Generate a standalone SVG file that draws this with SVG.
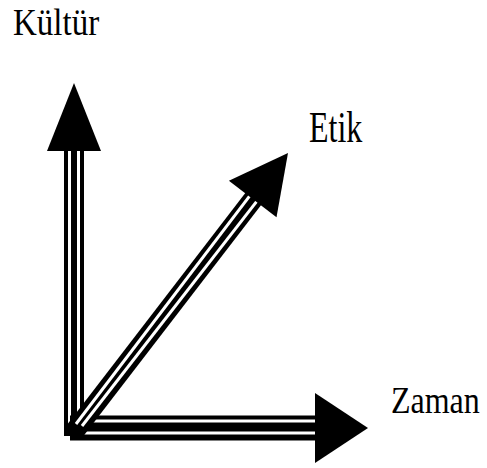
<svg xmlns="http://www.w3.org/2000/svg" width="487" height="468" viewBox="0 0 487 468">
<style>
.shaft{stroke:#000;fill:none}
.gap{stroke:#fff;fill:none;stroke-width:3}
.head{fill:#000;stroke:none}
.lbl{font-family:"Liberation Serif","Times New Roman",serif;fill:#000}
</style>
<rect width="487" height="468" fill="#fff"/>
<g id="connectors">
  <g id="axis-kultur">
    <line class="shaft" x1="74" y1="146" x2="74" y2="436" stroke-width="20"/>
    <line class="gap" x1="69.5" y1="146" x2="69.5" y2="426"/>
    <line class="gap" x1="78.5" y1="146" x2="78.5" y2="416"/>
    <polygon class="head" points="74,83 47,151 101,151"/>
  </g>
  <g id="axis-zaman">
    <line class="shaft" x1="70" y1="428" x2="318" y2="428" stroke-width="25"/>
    <line class="gap" x1="86" y1="421" x2="318" y2="421" stroke-width="4"/>
    <line class="gap" x1="82" y1="433" x2="318" y2="433" stroke-width="4"/>
    <polygon class="head" points="315,393 368,428 315,463"/>
  </g>
  <g id="axis-etik">
    <line class="shaft" x1="74" y1="432" x2="254" y2="198" stroke-width="20"/>
    <line class="gap" x1="82" y1="426" x2="257.3" y2="200.7"/>
    <line class="gap" x1="76" y1="424" x2="250.1" y2="195.3"/>
    <polygon class="head" points="288,153 276.5,217.3 228.9,180.7"/>
  </g>
</g>
<g id="label-kultur"><text class="lbl" font-size="33" transform="translate(13,35) scale(1,1.15)">Kültür</text></g>
<g id="label-etik"><text class="lbl" font-size="32" transform="translate(309,142) scale(1,1.4)">Etik</text></g>
<g id="label-zaman"><text class="lbl" font-size="32" transform="translate(391,413) scale(1,1.2)">Zaman</text></g>
</svg>
